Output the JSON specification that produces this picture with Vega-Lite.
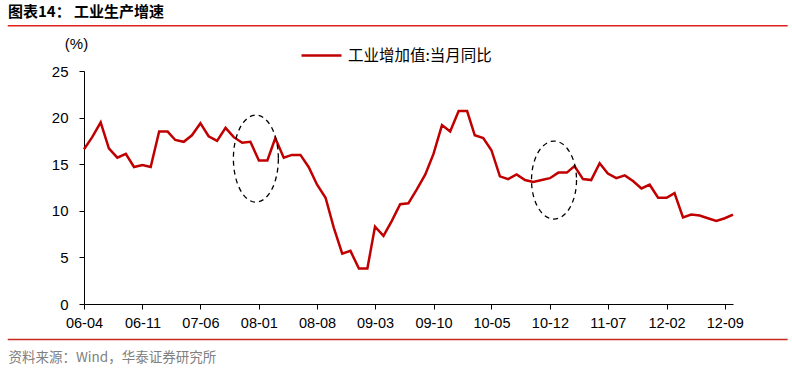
{
  "$schema": "https://vega.github.io/schema/vega-lite/v6.json",
  "width": 649,
  "height": 233,
  "autosize": {"type": "none"},
  "padding": {"left": 84, "top": 71, "right": 59, "bottom": 64},
  "background": "white",
  "title": {
    "text": "图表14： 工业生产增速",
    "anchor": "start",
    "frame": "group",
    "dx": -76,
    "dy": 13,
    "offset": 3,
    "baseline": "bottom",
    "font": "Noto Sans CJK SC",
    "fontSize": 15,
    "fontWeight": "bold",
    "color": "#000000"
  },
  "config": {
    "view": {"stroke": null},
    "axis": {"grid": false, "domainColor": "#000000", "tickColor": "#000000", "labelColor": "#000000", "domainWidth": 1, "tickWidth": 1}
  },
  "datasets": {
    "ip": [
      {"date": "2006-04-01", "v": 16.6}, {"date": "2006-05-01", "v": 17.9}, {"date": "2006-06-01", "v": 19.5}, {"date": "2006-07-01", "v": 16.7}, {"date": "2006-08-01", "v": 15.7}, {"date": "2006-09-01", "v": 16.1}, {"date": "2006-10-01", "v": 14.7}, {"date": "2006-11-01", "v": 14.9}, {"date": "2006-12-01", "v": 14.7},
      {"date": "2007-01-01", "v": 18.5}, {"date": "2007-02-01", "v": 18.5}, {"date": "2007-03-01", "v": 17.6}, {"date": "2007-04-01", "v": 17.4}, {"date": "2007-05-01", "v": 18.1}, {"date": "2007-06-01", "v": 19.4}, {"date": "2007-07-01", "v": 18.0}, {"date": "2007-08-01", "v": 17.5}, {"date": "2007-09-01", "v": 18.9}, {"date": "2007-10-01", "v": 17.9}, {"date": "2007-11-01", "v": 17.3}, {"date": "2007-12-01", "v": 17.4},
      {"date": "2008-01-01", "v": 15.4}, {"date": "2008-02-01", "v": 15.4}, {"date": "2008-03-01", "v": 17.8}, {"date": "2008-04-01", "v": 15.7}, {"date": "2008-05-01", "v": 16.0}, {"date": "2008-06-01", "v": 16.0}, {"date": "2008-07-01", "v": 14.7}, {"date": "2008-08-01", "v": 12.8}, {"date": "2008-09-01", "v": 11.4}, {"date": "2008-10-01", "v": 8.2}, {"date": "2008-11-01", "v": 5.4}, {"date": "2008-12-01", "v": 5.7},
      {"date": "2009-01-01", "v": 3.8}, {"date": "2009-02-01", "v": 3.8}, {"date": "2009-03-01", "v": 8.3}, {"date": "2009-04-01", "v": 7.3}, {"date": "2009-05-01", "v": 8.9}, {"date": "2009-06-01", "v": 10.7}, {"date": "2009-07-01", "v": 10.8}, {"date": "2009-08-01", "v": 12.3}, {"date": "2009-09-01", "v": 13.9}, {"date": "2009-10-01", "v": 16.1}, {"date": "2009-11-01", "v": 19.2}, {"date": "2009-12-01", "v": 18.5},
      {"date": "2010-01-01", "v": 20.7}, {"date": "2010-02-01", "v": 20.7}, {"date": "2010-03-01", "v": 18.1}, {"date": "2010-04-01", "v": 17.8}, {"date": "2010-05-01", "v": 16.5}, {"date": "2010-06-01", "v": 13.7}, {"date": "2010-07-01", "v": 13.4}, {"date": "2010-08-01", "v": 13.9}, {"date": "2010-09-01", "v": 13.3}, {"date": "2010-10-01", "v": 13.1}, {"date": "2010-11-01", "v": 13.3}, {"date": "2010-12-01", "v": 13.5},
      {"date": "2011-01-01", "v": 14.1}, {"date": "2011-02-01", "v": 14.1}, {"date": "2011-03-01", "v": 14.8}, {"date": "2011-04-01", "v": 13.4}, {"date": "2011-05-01", "v": 13.3}, {"date": "2011-06-01", "v": 15.1}, {"date": "2011-07-01", "v": 14.0}, {"date": "2011-08-01", "v": 13.5}, {"date": "2011-09-01", "v": 13.8}, {"date": "2011-10-01", "v": 13.2}, {"date": "2011-11-01", "v": 12.4}, {"date": "2011-12-01", "v": 12.8},
      {"date": "2012-01-01", "v": 11.4}, {"date": "2012-02-01", "v": 11.4}, {"date": "2012-03-01", "v": 11.9}, {"date": "2012-04-01", "v": 9.3}, {"date": "2012-05-01", "v": 9.6}, {"date": "2012-06-01", "v": 9.5}, {"date": "2012-07-01", "v": 9.2}, {"date": "2012-08-01", "v": 8.9}, {"date": "2012-09-01", "v": 9.2}, {"date": "2012-10-01", "v": 9.6}
    ],
    "e1": [{"date": "2007-12-21", "v": 15.6}],
    "e2": [{"date": "2010-12-16", "v": 13.3}]
  },
  "layer": [
    {
      "data": {"name": "ip"},
      "mark": {"type": "line", "strokeWidth": 2.5, "interpolate": "linear"},
      "encoding": {
        "x": {
          "field": "date", "type": "temporal",
          "scale": {"type": "utc", "domain": [{"year": 2006, "month": 4, "date": 1, "utc": true}, {"year": 2012, "month": 10, "date": 1, "utc": true}], "nice": false},
          "axis": {
            "labelExpr": "utcFormat(datum.value, '%y-%m')",
            "values": [
              {"year": 2006, "month": 4, "date": 1, "utc": true},
              {"year": 2006, "month": 11, "date": 1, "utc": true},
              {"year": 2007, "month": 6, "date": 1, "utc": true},
              {"year": 2008, "month": 1, "date": 1, "utc": true},
              {"year": 2008, "month": 8, "date": 1, "utc": true},
              {"year": 2009, "month": 3, "date": 1, "utc": true},
              {"year": 2009, "month": 10, "date": 1, "utc": true},
              {"year": 2010, "month": 5, "date": 1, "utc": true},
              {"year": 2010, "month": 12, "date": 1, "utc": true},
              {"year": 2011, "month": 7, "date": 1, "utc": true},
              {"year": 2012, "month": 2, "date": 1, "utc": true},
              {"year": 2012, "month": 9, "date": 1, "utc": true}
            ],
            "labelFont": "Liberation Sans", "labelFontSize": 14.5, "labelPadding": 7, "tickSize": 5,
            "labelOverlap": false, "labelFlush": false,
            "title": "资料来源：Wind，华泰证券研究所",
            "titleFont": "Noto Sans CJK SC", "titleFontSize": 13.5, "titleFontWeight": "normal", "titleColor": "#808080",
            "titleX": -76, "titleY": 53, "titleAlign": "left", "titleBaseline": "middle", "titleAnchor": "start"
          }
        },
        "y": {
          "field": "v", "type": "quantitative",
          "scale": {"domain": [0, 25], "nice": false},
          "axis": {
            "values": [0, 5, 10, 15, 20, 25],
            "labelFont": "Liberation Sans", "labelFontSize": 15, "labelPadding": 11, "tickSize": 5,
            "title": "(%)", "titleAngle": 0, "titleX": -8, "titleY": -28, "titleAlign": "center", "titleBaseline": "middle",
            "titleFont": "Liberation Sans", "titleFontSize": 15, "titleFontWeight": "normal", "titleColor": "#000000"
          }
        },
        "color": {
          "datum": "工业增加值:当月同比",
          "scale": {"range": ["#C00000"]},
          "legend": {
            "orient": "none", "legendX": 216, "legendY": -37, "title": null,
            "symbolType": "stroke", "symbolSize": 1600, "symbolStrokeWidth": 2.5,
            "labelFont": "Noto Sans CJK SC", "labelFontSize": 15.5, "labelColor": "#000000", "labelOffset": 5
          }
        }
      }
    },
    {
      "data": {"name": "e1"},
      "mark": {"type": "point", "filled": false, "stroke": "#000000", "strokeWidth": 1.3, "strokeDash": [5, 4], "opacity": 1, "size": 7569,
        "shape": "M0.517,0C0.517,0.552 0.286,1 0,1C-0.286,1 -0.517,0.552 -0.517,0C-0.517,-0.552 -0.286,-1 0,-1C0.286,-1 0.517,-0.552 0.517,0Z"},
      "encoding": {
        "x": {"field": "date", "type": "temporal"},
        "y": {"field": "v", "type": "quantitative"}
      }
    },
    {
      "data": {"name": "e2"},
      "mark": {"type": "point", "filled": false, "stroke": "#000000", "strokeWidth": 1.3, "strokeDash": [5, 4], "opacity": 1, "size": 6084,
        "shape": "M0.577,0C0.577,0.552 0.319,1 0,1C-0.319,1 -0.577,0.552 -0.577,0C-0.577,-0.552 -0.319,-1 0,-1C0.319,-1 0.577,-0.552 0.577,0Z"},
      "encoding": {
        "x": {"field": "date", "type": "temporal"},
        "y": {"field": "v", "type": "quantitative"}
      }
    },
    {
      "data": {"values": [{}]},
      "mark": {"type": "rule", "color": "#E0201A", "strokeWidth": 1.5, "clip": false},
      "encoding": {
        "x": {"datum": 1119744000000, "type": "temporal"},
        "x2": {"datum": 1366329600000},
        "y": {"datum": 29.86, "type": "quantitative"}
      }
    },
    {
      "data": {"values": [{}]},
      "mark": {"type": "rule", "color": "#C8281E", "strokeWidth": 1.5, "clip": false},
      "encoding": {
        "x": {"datum": 1119744000000, "type": "temporal"},
        "x2": {"datum": 1366329600000},
        "y": {"datum": -3.81, "type": "quantitative"}
      }
    }
  ]
}
